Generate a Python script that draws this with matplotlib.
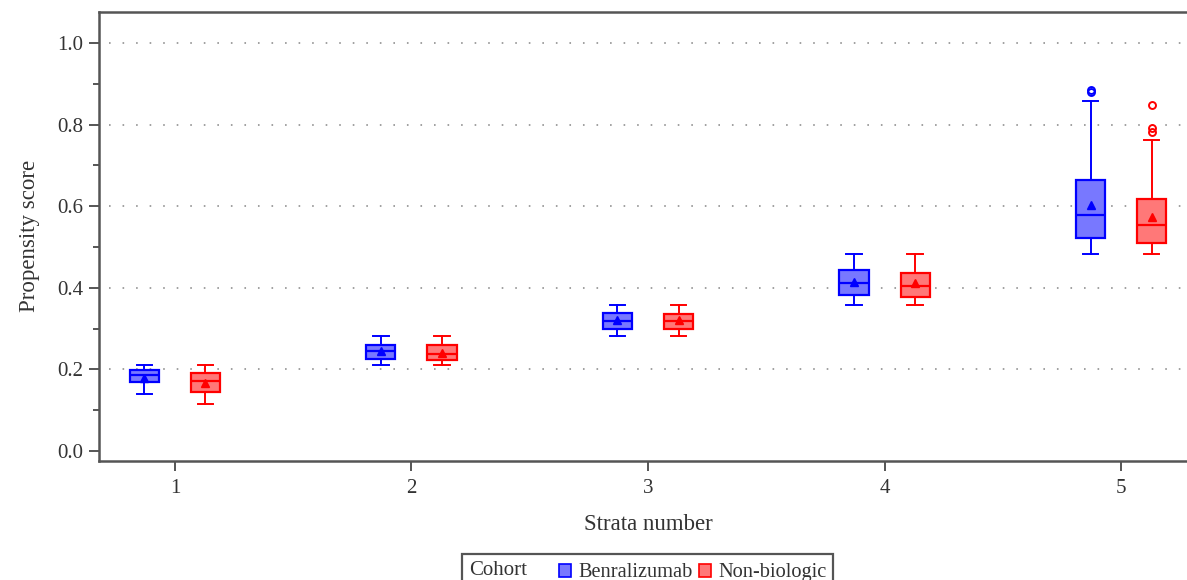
import matplotlib
matplotlib.use('Agg')
import numpy as np
from matplotlib import pyplot as plt
from matplotlib.patches import Patch, Rectangle

plt.rcParams['font.family'] = ['Liberation Serif', 'DejaVu Serif']

# strata on the x axis
strata = [1, 2, 3, 4, 5]
strata_labels = ['1', '2', '3', '4', '5']

# Benralizumab box statistics per stratum
blue_lo = [0.139, 0.211, 0.283, 0.358, 0.483]
blue_q1 = [0.168, 0.225, 0.299, 0.382, 0.523]
blue_med = [0.186, 0.244, 0.319, 0.411, 0.579]
blue_q3 = [0.199, 0.261, 0.338, 0.444, 0.664]
blue_hi = [0.211, 0.282, 0.358, 0.482, 0.859]
blue_mean = [0.180, 0.245, 0.320, 0.415, 0.603]
blue_fliers = [[], [], [], [], [0.880, 0.886]]

# Non-biologic box statistics per stratum
red_lo = [0.116, 0.211, 0.283, 0.358, 0.483]
red_q1 = [0.144, 0.223, 0.299, 0.378, 0.511]
red_med = [0.171, 0.238, 0.319, 0.405, 0.555]
red_q3 = [0.190, 0.260, 0.337, 0.437, 0.618]
red_hi = [0.211, 0.282, 0.358, 0.482, 0.762]
red_mean = [0.167, 0.241, 0.320, 0.411, 0.573]
red_fliers = [[], [], [], [], [0.783, 0.791, 0.849]]

cohorts = ['Benralizumab', 'Non-biologic']
y_ticks = [0.0, 0.2, 0.4, 0.6, 0.8, 1.0]
grid_levels = [0.2, 0.4, 0.6, 0.8, 1.0]

blue = '#0000ff'
red = '#ff0000'
blue_fill = '#7878ff'
red_fill = '#ff7878'
axis_col = '#555555'
text_col = '#333333'


def make_stats(lo, q1, med, q3, hi, mean, fliers):
    stats = []
    for i in range(len(med)):
        stats.append(dict(whislo=lo[i], q1=q1[i], med=med[i], q3=q3[i],
                          whishi=hi[i], mean=mean[i], fliers=fliers[i]))
    return stats


def draw_group(ax, stats, positions, line, fill):
    ax.bxp(stats, positions=positions, widths=0.123, patch_artist=True,
           showmeans=True, showfliers=True,
           boxprops=dict(facecolor=fill, edgecolor=line, linewidth=1.6),
           medianprops=dict(color=line, linewidth=1.6),
           whiskerprops=dict(color=line, linewidth=1.4),
           capprops=dict(color=line, linewidth=1.4),
           capwidths=0.065,
           meanprops=dict(marker='^', markerfacecolor=line, markeredgecolor=line,
                          markersize=5.5),
           flierprops=dict(marker='o', markerfacecolor='none', markeredgecolor=line,
                           markersize=5, markeredgewidth=1.4),
           manage_ticks=False)


fig = plt.figure(figsize=(11.87, 5.80), dpi=100)
ax = fig.add_axes([99 / 1187, 1 - 460.7 / 580, 1098 / 1187, (460.7 - 12) / 580])

x = np.array(strata, dtype=float)
offset = 0.129

ax.hlines(grid_levels, 0.72, 5.4, colors='#999999', linewidth=1.3,
          linestyles=(0, (0.9, 6.6)), zorder=0)

draw_group(ax, make_stats(blue_lo, blue_q1, blue_med, blue_q3, blue_hi, blue_mean, blue_fliers),
           x - offset, blue, blue_fill)
draw_group(ax, make_stats(red_lo, red_q1, red_med, red_q3, red_hi, red_mean, red_fliers),
           x + offset, red, red_fill)

ax.set_xlim(0.679, 5.321)
ax.set_ylim(-0.0238, 1.0763)
ax.set_xticks(strata)
ax.set_xticklabels(strata_labels)
ax.set_yticks(y_ticks)
ax.set_yticklabels(['%.1f' % v for v in y_ticks])
ax.set_yticks(np.arange(0.1, 1.0, 0.2), minor=True)

for side in ['top', 'left', 'bottom', 'right']:
    ax.spines[side].set_color(axis_col)
    ax.spines[side].set_linewidth(1.8)

ax.tick_params(axis='both', which='major', direction='out', length=7, width=1.4,
               color=axis_col, labelsize=15, labelcolor=text_col)
ax.tick_params(axis='x', which='major', pad=6)
ax.tick_params(axis='y', which='major', pad=4.5)
ax.tick_params(axis='y', which='minor', direction='out', length=4, width=1.4,
               color=axis_col)

ax.set_xlabel('Strata number', fontsize=16.5, color=text_col, labelpad=12)
ax.set_ylabel('Propensity score', fontsize=16.5, color=text_col, labelpad=12)

# legend frame with the "Cohort" title on the left
frame = Rectangle((462 / 1187, -0.05), 371 / 1187, 0.05 + 1 - 554 / 580,
                  transform=fig.transFigure, facecolor='white',
                  edgecolor=axis_col, linewidth=1.6)
fig.patches.append(frame)
fig.text(469 / 1187, 1 - 575 / 580, 'Cohort', fontsize=15, color=text_col,
         va='baseline', ha='left')
handles = [Patch(facecolor=blue_fill, edgecolor=blue, linewidth=1.2),
           Patch(facecolor=red_fill, edgecolor=red, linewidth=1.2)]
fig.legend(handles, cohorts, loc='lower left', bbox_to_anchor=(559 / 1187, -0.004),
           ncol=2, frameon=False, fontsize=14.7, borderpad=0, borderaxespad=0,
           handlelength=0.6, handleheight=0.6, handletextpad=0.35,
           columnspacing=0.3, labelcolor=text_col)

fig.savefig('out.png', dpi=100)
